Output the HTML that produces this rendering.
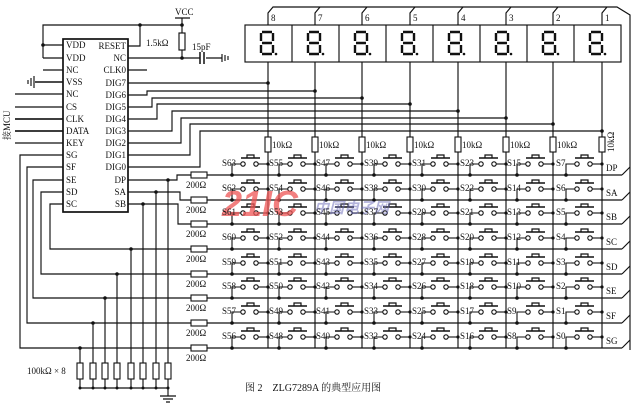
<!DOCTYPE html>
<html><head><meta charset="utf-8"><style>
html,body{margin:0;padding:0;background:#fff;width:640px;height:407px;overflow:hidden}
svg{display:block}
text{font-family:"Liberation Serif","Noto Serif CJK SC",serif;fill:#111}
</style></head><body>
<svg width="640" height="407" viewBox="0 0 640 407" xmlns="http://www.w3.org/2000/svg">
<defs>
<g id="sw" stroke="#111" fill="none" stroke-width="1.1">
<path d="M-36 0V-11H-27.5"/>
<circle cx="-25" cy="-11" r="2.2" fill="#fff"/>
<circle cx="-12" cy="-11" r="2.2" fill="#fff"/>
<path d="M-9.8 -11H0"/>
<path d="M-27 -17H-8" stroke-width="1.6"/>
<path d="M-21 -17V-20H-14V-17" stroke-width="1.2"/>
<circle cx="0" cy="-11" r="1.6" fill="#111" stroke="none"/>
<circle cx="-36" cy="0" r="1.8" fill="#111" stroke="none"/>
</g>
<g id="res10" stroke="#111" fill="#fff" stroke-width="1.1"><rect x="-3" y="-8" width="6" height="15"/></g>
<g id="dig" stroke="#111" stroke-width="2.4" fill="none">
<path d="M-5 -11H5M-6 -10V-2M6 -10V-2M-5 0H5M-6 2V10M6 2V10M-5 11H5"/>
<circle cx="9" cy="11" r="1.3" fill="#111" stroke="none"/>
</g>
</defs>

<g stroke="#111" stroke-width="1.15" fill="none">
<rect x="63" y="39" width="65" height="173" stroke-width="1.7"/>
<path d="M43 45V25H182"/>
<path d="M43 45H63M43 58H63M43 45V58"/>
<path d="M128 46H140V25"/>
<path d="M175 18H190M182 18V33M182 50V58M128 58H200M206 58H222"/>
<path d="M200 52V64M204 52V64" stroke-width="1.5"/>
<path d="M222 54V62M225 55V61M228 56V60"/>
<rect x="179" y="33" width="6" height="17" fill="#fff"/>
<path d="M43 70H63"/>
<path d="M35 82H63" stroke-width="1.6"/>
<path d="M34 76V88M31 78V86M28 80V84"/>
<path d="M15 94H63M15 107H63M15 119H63M15 131H63M15 143H63"/>
<path d="M15 119H63M15 131H63" stroke-width="1.6"/>
<path d="M63 155H20V348H191"/>
<path d="M63 167H27V323H191"/>
<path d="M63 180H33V298H191"/>
<path d="M63 192H41V274H191"/>
<path d="M63 204H50V249H191"/>
<path d="M128 70H147"/>
<path d="M128 83H268"/>
<path d="M128 95H147V91H315"/>
<path d="M128 107H152V98H362"/>
<path d="M128 119H157V104H410"/>
<path d="M128 131H172V111H458"/>
<path d="M128 143H181V118H506"/>
<path d="M128 155H190V124H553"/>
<path d="M128 167H200V131H602"/>
<path d="M128 180H177V175H191"/>
<path d="M128 192H180V200H191"/>
<path d="M128 204H178V224H191"/>
<path d="M80 348V388M93 323V388M105 298V388M117 274V388M131 249V388M143 204V388M156 192V388M168 180V388"/>
<path d="M80 388H168M168 388V396M160 396H176M163 399H173M166 402H170"/>
<path d="M207 175H622M207 200H622M207 224H622M207 249H622M207 274H622M207 298H622M207 323H622M207 348H622"/>
<path d="M622 175L630 167M622 200L630 192M622 224L630 216M622 249L630 241M622 274L630 266M622 298L630 290M622 323L630 315M622 348L630 340"/>
<path d="M268 62V348M315 62V348M362 62V348M410 62V348M458 62V348M506 62V348M553 62V348M602 62V348"/>
<path d="M268 25V13L273 7H617L630 15V350"/>
<path d="M315 25V13L320 7M362 25V13L367 7M410 25V13L415 7M458 25V13L463 7M506 25V13L511 7M553 25V13L558 7M602 25V13L607 7"/>
<rect x="245" y="25" width="376" height="37" fill="#fff"/>
<path d="M292 25V62M339 25V62M386 25V62M433 25V62M480 25V62M527 25V62M574 25V62"/>
</g>

<g stroke="#111" fill="#fff" stroke-width="1.1">
<rect x="191" y="172" width="16" height="6"/><rect x="191" y="197" width="16" height="6"/>
<rect x="191" y="221" width="16" height="6"/><rect x="191" y="246" width="16" height="6"/>
<rect x="191" y="271" width="16" height="6"/><rect x="191" y="295" width="16" height="6"/>
<rect x="191" y="320" width="16" height="6"/><rect x="191" y="345" width="16" height="6"/>
<rect x="77" y="363" width="6" height="16"/><rect x="90" y="363" width="6" height="16"/>
<rect x="102" y="363" width="6" height="16"/><rect x="114" y="363" width="6" height="16"/>
<rect x="128" y="363" width="6" height="16"/><rect x="140" y="363" width="6" height="16"/>
<rect x="153" y="363" width="6" height="16"/><rect x="165" y="363" width="6" height="16"/>
</g>
<use href="#res10" x="268" y="145"/><use href="#res10" x="315" y="145"/><use href="#res10" x="362" y="145"/><use href="#res10" x="410" y="145"/>
<use href="#res10" x="458" y="145"/><use href="#res10" x="506" y="145"/><use href="#res10" x="553" y="145"/><use href="#res10" x="602" y="145"/>

<use href="#dig" x="267" y="43"/><use href="#dig" x="314" y="43"/><use href="#dig" x="361" y="43"/><use href="#dig" x="408" y="43"/>
<use href="#dig" x="455" y="43"/><use href="#dig" x="502" y="43"/><use href="#dig" x="549" y="43"/><use href="#dig" x="596" y="43"/>

<g fill="#111">
<circle cx="43" cy="45" r="1.8"/><circle cx="140" cy="25" r="1.8"/><circle cx="182" cy="25" r="1.8"/><circle cx="182" cy="58" r="1.8"/>
<circle cx="268" cy="83" r="1.8"/><circle cx="315" cy="91" r="1.8"/><circle cx="362" cy="98" r="1.8"/><circle cx="410" cy="104" r="1.8"/>
<circle cx="458" cy="111" r="1.8"/><circle cx="506" cy="118" r="1.8"/><circle cx="553" cy="124" r="1.8"/><circle cx="602" cy="131" r="1.8"/>
<circle cx="80" cy="348" r="1.8"/><circle cx="93" cy="323" r="1.8"/><circle cx="105" cy="298" r="1.8"/><circle cx="117" cy="274" r="1.8"/>
<circle cx="131" cy="249" r="1.8"/><circle cx="143" cy="204" r="1.8"/><circle cx="156" cy="192" r="1.8"/><circle cx="168" cy="180" r="1.8"/>
<circle cx="80" cy="388" r="1.5"/><circle cx="93" cy="388" r="1.5"/><circle cx="105" cy="388" r="1.5"/><circle cx="117" cy="388" r="1.5"/>
<circle cx="131" cy="388" r="1.5"/><circle cx="143" cy="388" r="1.5"/><circle cx="156" cy="388" r="1.5"/><circle cx="168" cy="388" r="1.5"/>
</g>

<g>
<use href="#sw" x="268" y="175"/><use href="#sw" x="268" y="200"/><use href="#sw" x="268" y="224"/><use href="#sw" x="268" y="249"/><use href="#sw" x="268" y="274"/><use href="#sw" x="268" y="298"/><use href="#sw" x="268" y="323"/><use href="#sw" x="268" y="348"/>
<use href="#sw" x="315" y="175"/><use href="#sw" x="315" y="200"/><use href="#sw" x="315" y="224"/><use href="#sw" x="315" y="249"/><use href="#sw" x="315" y="274"/><use href="#sw" x="315" y="298"/><use href="#sw" x="315" y="323"/><use href="#sw" x="315" y="348"/>
<use href="#sw" x="362" y="175"/><use href="#sw" x="362" y="200"/><use href="#sw" x="362" y="224"/><use href="#sw" x="362" y="249"/><use href="#sw" x="362" y="274"/><use href="#sw" x="362" y="298"/><use href="#sw" x="362" y="323"/><use href="#sw" x="362" y="348"/>
<use href="#sw" x="410" y="175"/><use href="#sw" x="410" y="200"/><use href="#sw" x="410" y="224"/><use href="#sw" x="410" y="249"/><use href="#sw" x="410" y="274"/><use href="#sw" x="410" y="298"/><use href="#sw" x="410" y="323"/><use href="#sw" x="410" y="348"/>
<use href="#sw" x="458" y="175"/><use href="#sw" x="458" y="200"/><use href="#sw" x="458" y="224"/><use href="#sw" x="458" y="249"/><use href="#sw" x="458" y="274"/><use href="#sw" x="458" y="298"/><use href="#sw" x="458" y="323"/><use href="#sw" x="458" y="348"/>
<use href="#sw" x="506" y="175"/><use href="#sw" x="506" y="200"/><use href="#sw" x="506" y="224"/><use href="#sw" x="506" y="249"/><use href="#sw" x="506" y="274"/><use href="#sw" x="506" y="298"/><use href="#sw" x="506" y="323"/><use href="#sw" x="506" y="348"/>
<use href="#sw" x="553" y="175"/><use href="#sw" x="553" y="200"/><use href="#sw" x="553" y="224"/><use href="#sw" x="553" y="249"/><use href="#sw" x="553" y="274"/><use href="#sw" x="553" y="298"/><use href="#sw" x="553" y="323"/><use href="#sw" x="553" y="348"/>
<use href="#sw" x="602" y="175"/><use href="#sw" x="602" y="200"/><use href="#sw" x="602" y="224"/><use href="#sw" x="602" y="249"/><use href="#sw" x="602" y="274"/><use href="#sw" x="602" y="298"/><use href="#sw" x="602" y="323"/><use href="#sw" x="602" y="348"/>
</g>

<text x="222" y="216" font-weight="bold" font-style="italic" font-size="36" style="fill:#ee5555;opacity:.75;font-family:'Liberation Sans',sans-serif">21IC</text>
<text x="314" y="213" style="fill:#6a6ab8;opacity:.5;font-family:'Liberation Sans','Noto Sans CJK SC',sans-serif" font-size="15" font-weight="bold" font-style="italic">中国电子网</text>

<g font-size="9">
<text x="66" y="48">VDD</text><text x="66" y="61">VDD</text><text x="66" y="73">NC</text><text x="66" y="85">VSS</text>
<text x="66" y="97">NC</text><text x="66" y="110">CS</text><text x="66" y="122">CLK</text><text x="66" y="134">DATA</text>
<text x="66" y="146">KEY</text><text x="66" y="158">SG</text><text x="66" y="170">SF</text><text x="66" y="183">SE</text>
<text x="66" y="195">SD</text><text x="66" y="207">SC</text>
<g text-anchor="end">
<text x="126" y="49">RESET</text><text x="126" y="61">NC</text><text x="126" y="73">CLK0</text><text x="126" y="86">DIG7</text>
<text x="126" y="98">DIG6</text><text x="126" y="110">DIG5</text><text x="126" y="122">DIG4</text><text x="126" y="134">DIG3</text>
<text x="126" y="146">DIG2</text><text x="126" y="158">DIG1</text><text x="126" y="170">DIG0</text><text x="126" y="183">DP</text>
<text x="126" y="195">SA</text><text x="126" y="207">SB</text>
</g>
<text x="175" y="15">VCC</text>
<text x="146" y="46">1.5kΩ</text>
<text x="192" y="50">15pF</text>
<text x="10" y="140" transform="rotate(-90 10 140)" style="font-family:'Liberation Serif','Noto Serif CJK SC',serif">接MCU</text>
<text x="186" y="188">200Ω</text><text x="186" y="213">200Ω</text><text x="186" y="237">200Ω</text><text x="186" y="262">200Ω</text>
<text x="186" y="287">200Ω</text><text x="186" y="311">200Ω</text><text x="186" y="336">200Ω</text><text x="186" y="361">200Ω</text>
<text x="27" y="374">100kΩ × 8</text>
<text x="272" y="148">10kΩ</text><text x="319" y="148">10kΩ</text><text x="366" y="148">10kΩ</text><text x="414" y="148">10kΩ</text>
<text x="462" y="148">10kΩ</text><text x="510" y="148">10kΩ</text><text x="557" y="148">10kΩ</text>
<text x="614" y="152" transform="rotate(-90 614 152)">10kΩ</text>
<text x="271" y="21">8</text><text x="318" y="21">7</text><text x="365" y="21">6</text><text x="413" y="21">5</text>
<text x="461" y="21">4</text><text x="509" y="21">3</text><text x="556" y="21">2</text><text x="605" y="21">1</text>
<text x="606" y="171">DP</text><text x="606" y="196">SA</text><text x="606" y="220">SB</text><text x="606" y="245">SC</text>
<text x="606" y="270">SD</text><text x="606" y="294">SE</text><text x="606" y="319">SF</text><text x="606" y="344">SG</text>
<text x="245" y="391" style="font-family:'Liberation Serif','Noto Serif CJK SC',serif;white-space:pre" font-size="10">图 2    ZLG7289A 的典型应用图</text>
</g>
<g font-size="9">
<text x="222" y="166">S63</text><text x="222" y="191">S62</text><text x="222" y="215">S61</text><text x="222" y="240">S60</text><text x="222" y="265">S59</text><text x="222" y="289">S58</text><text x="222" y="314">S57</text><text x="222" y="339">S56</text>
<text x="269" y="166">S55</text><text x="269" y="191">S54</text><text x="269" y="215">S53</text><text x="269" y="240">S52</text><text x="269" y="265">S51</text><text x="269" y="289">S50</text><text x="269" y="314">S49</text><text x="269" y="339">S48</text>
<text x="316" y="166">S47</text><text x="316" y="191">S46</text><text x="316" y="215">S45</text><text x="316" y="240">S44</text><text x="316" y="265">S43</text><text x="316" y="289">S42</text><text x="316" y="314">S41</text><text x="316" y="339">S40</text>
<text x="364" y="166">S39</text><text x="364" y="191">S38</text><text x="364" y="215">S37</text><text x="364" y="240">S36</text><text x="364" y="265">S35</text><text x="364" y="289">S34</text><text x="364" y="314">S33</text><text x="364" y="339">S32</text>
<text x="412" y="166">S31</text><text x="412" y="191">S30</text><text x="412" y="215">S29</text><text x="412" y="240">S28</text><text x="412" y="265">S27</text><text x="412" y="289">S26</text><text x="412" y="314">S25</text><text x="412" y="339">S24</text>
<text x="460" y="166">S23</text><text x="460" y="191">S22</text><text x="460" y="215">S21</text><text x="460" y="240">S20</text><text x="460" y="265">S19</text><text x="460" y="289">S18</text><text x="460" y="314">S17</text><text x="460" y="339">S16</text>
<text x="507" y="166">S15</text><text x="507" y="191">S14</text><text x="507" y="215">S13</text><text x="507" y="240">S12</text><text x="507" y="265">S11</text><text x="507" y="289">S10</text><text x="507" y="314">S9</text><text x="507" y="339">S8</text>
<text x="556" y="166">S7</text><text x="556" y="191">S6</text><text x="556" y="215">S5</text><text x="556" y="240">S4</text><text x="556" y="265">S3</text><text x="556" y="289">S2</text><text x="556" y="314">S1</text><text x="556" y="339">S0</text>
</g>
</svg>
</body></html>
